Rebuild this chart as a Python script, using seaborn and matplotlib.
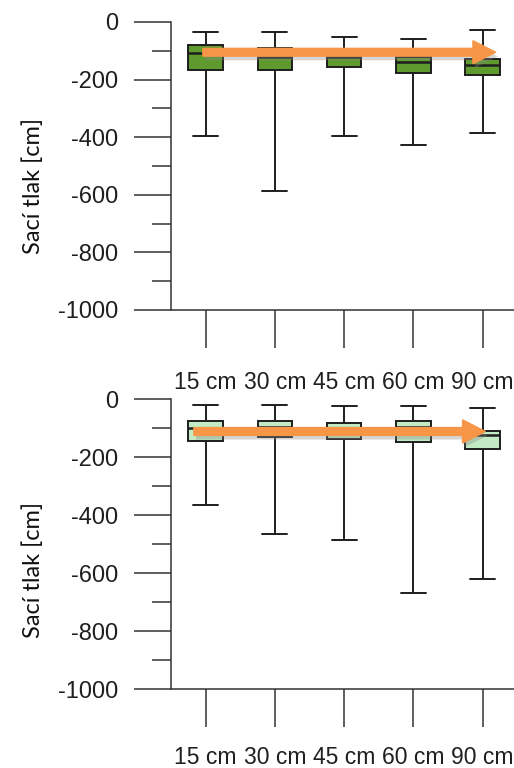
import numpy as np
import pandas as pd
import matplotlib
matplotlib.use("Agg")
import matplotlib.pyplot as plt
import matplotlib.patheffects as pe
from matplotlib.ticker import MultipleLocator
import seaborn as sns

# ---- data ----
depths = ["15 cm", "30 cm", "45 cm", "60 cm", "90 cm"]
# five-number summaries per depth: [max, q3, median, q1, min]
top_max = [-35, -35, -52, -59, -28]
top_q3 = [-80, -90, -95, -122, -127]
top_med = [-108, -122, -122, -138, -150]
top_q1 = [-167, -167, -156, -178, -185]
top_min = [-396, -587, -396, -426, -385]

bot_max = [-20, -20, -25, -25, -31]
bot_q3 = [-77, -77, -82, -77, -110]
bot_med = [-99, -95, -108, -97, -124]
bot_q1 = [-145, -132, -139, -149, -172]
bot_min = [-367, -464, -487, -669, -621]

top_arrow_y = -105
bot_arrow_y = -112
ylabel = "Sací tlak [cm]"

def make_df(mx, q3, med, q1, mn):
    rows = []
    for i, d in enumerate(depths):
        for v in (mx[i], q3[i], med[i], q1[i], mn[i]):
            rows.append((d, v))
    return pd.DataFrame(rows, columns=["depth", "value"])

df_top = make_df(top_max, top_q3, top_med, top_q1, top_min)
df_bot = make_df(bot_max, bot_q3, bot_med, bot_q1, bot_min)

sns.set_theme(style="ticks")
plt.rcParams["font.family"] = ["Liberation Sans", "DejaVu Sans"]

W, H = 514, 768
fig = plt.figure(figsize=(W / 100, H / 100), dpi=100)

def ax_rect(left, top, right, bottom):
    return [left / W, 1 - bottom / H, (right - left) / W, (bottom - top) / H]

ax1 = fig.add_axes(ax_rect(171, 22, 514, 310))
ax2 = fig.add_axes(ax_rect(171, 399, 514, 689))

edge = "#1e1e1e"
panels = [
    (ax1, df_top, "#5f9a2f", top_arrow_y, (-0.04, 4.19), 0.43, 17),
    (ax2, df_bot, "#c2eac4", bot_arrow_y, (-0.17, 4.04), 0.41, 14),
]

for ax, df, fill, ay, (x0, x1), ylab_y, xpad in panels:
    sns.boxplot(
        data=df, x="depth", y="value", ax=ax, whis=(0, 100), width=0.5,
        color=fill, saturation=1, fliersize=0, linecolor=edge, linewidth=1.4,
        medianprops=dict(color=edge, linewidth=1.8),
    )
    # widen the whisker caps
    for ln in ax.lines:
        xd = np.asarray(ln.get_xdata(), dtype=float)
        yd = np.asarray(ln.get_ydata(), dtype=float)
        if len(xd) == 2 and yd[0] == yd[1]:
            span = abs(xd[1] - xd[0])
            if 0.2 < span < 0.3:
                c = xd.mean()
                ln.set_xdata([c - 0.18, c + 0.18])
    ax.set_xlim(-0.5, -0.5 + 343 / 69.25)
    ax.set_ylim(-1000, 0)
    ax.yaxis.set_major_locator(MultipleLocator(200))
    ax.yaxis.set_minor_locator(MultipleLocator(100))
    ax.set_yticks([0, -200, -400, -600, -800, -1000])
    ax.set_yticklabels(["0", "-200", "-400", "-600", "-800", "-1000"])
    ax.tick_params(axis="y", which="major", length=27, width=1.1, color="#333333",
                   pad=11, labelsize=17, labelcolor="#1f1f1f")
    ax.tick_params(axis="y", which="minor", length=13.5, width=1.1, color="#333333")
    ax.tick_params(axis="x", which="major", length=27, width=1.1, color="#333333",
                   pad=xpad, labelsize=16.5, labelcolor="#1f1f1f")
    for s in ("top", "right"):
        ax.spines[s].set_visible(False)
    for s in ("left", "bottom"):
        ax.spines[s].set_linewidth(1.1)
        ax.spines[s].set_color("#333333")
    ax.set_xlabel("")
    ax.set_ylabel(ylabel, fontsize=17, family=["Lato", "DejaVu Sans"], color="#111111")
    ax.yaxis.set_label_coords(-0.37, ylab_y)

    arr = ax.arrow(x0, ay, x1 - x0, 0, width=27, head_width=80, head_length=0.33,
                   length_includes_head=True, color="#f79646", zorder=10)
    arr.set_path_effects([pe.SimplePatchShadow(offset=(1.5, -3), shadow_rgbFace="#888888", alpha=0.35),
                          pe.Normal()])

fig.savefig("out.png", dpi=100)
